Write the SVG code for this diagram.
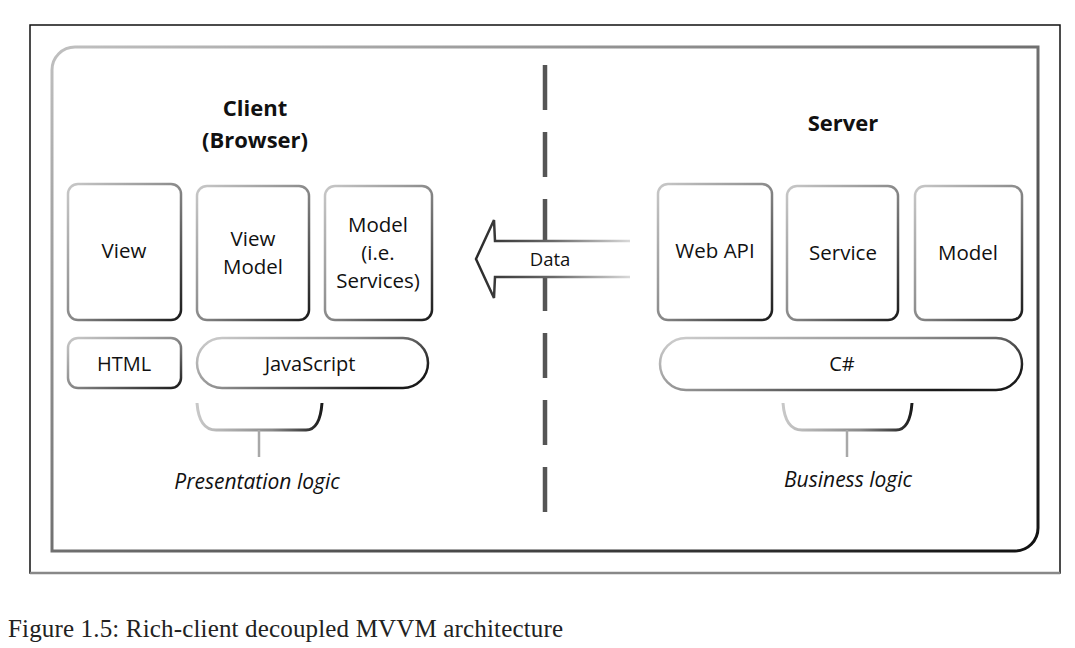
<svg xmlns="http://www.w3.org/2000/svg" width="1075" height="648" viewBox="0 0 1075 648">
<defs>
<linearGradient id="gBox" x1="0" y1="0" x2="1" y2="1">
<stop offset="0" stop-color="#c8c8c8"/><stop offset="0.5" stop-color="#8a8a8a"/><stop offset="1" stop-color="#1a1a1a"/>
</linearGradient>
<linearGradient id="gPill" x1="0" y1="0" x2="1" y2="0.6">
<stop offset="0" stop-color="#d0d0d0"/><stop offset="0.5" stop-color="#909090"/><stop offset="1" stop-color="#1a1a1a"/>
</linearGradient>
<linearGradient id="gCont" x1="0" y1="0" x2="1" y2="1">
<stop offset="0" stop-color="#c0c0c0"/><stop offset="0.5" stop-color="#707070"/><stop offset="1" stop-color="#111"/>
</linearGradient>
<linearGradient id="gArrow" gradientUnits="userSpaceOnUse" x1="476" y1="0" x2="632" y2="0">
<stop offset="0" stop-color="#2a2a2a"/><stop offset="0.5" stop-color="#6a6a6a"/><stop offset="1" stop-color="#dcdcdc"/>
</linearGradient>
<linearGradient id="gBrace" x1="0" y1="0" x2="1" y2="0">
<stop offset="0" stop-color="#c8c8c8"/><stop offset="0.6" stop-color="#8a8a8a"/><stop offset="1" stop-color="#1a1a1a"/>
</linearGradient>
</defs>
<style>
.box{fill:#fff;stroke:url(#gBox);stroke-width:2.5}
.pill{fill:#fff;stroke:url(#gPill);stroke-width:2.5}
.lbl{font-family:"Open Sans","Noto Sans",sans-serif;font-size:20.5px;fill:#111;text-anchor:middle}
.sm{font-size:20px}
.ttl{font-family:"Open Sans","Noto Sans",sans-serif;font-size:22px;font-weight:bold;fill:#111;text-anchor:middle}
.it{font-family:"Open Sans","Noto Sans",sans-serif;font-size:21px;font-style:italic;fill:#111;text-anchor:middle}
.brace{fill:none;stroke:url(#gBrace);stroke-width:3}
.stem{stroke:#a8a8a8;stroke-width:2.5}
</style>
<rect x="0" y="0" width="1075" height="648" fill="#fff"/>
<g id="frame">
<rect x="30" y="25" width="1030" height="548" fill="#fff" stroke="#111" stroke-width="1.5"/>
<line x1="30" y1="573" x2="1060" y2="573" stroke="#888" stroke-width="2.5"/>
</g>
<g id="container">
<path d="M52,70 A23,23 0 0 1 75,47 L1038,47 L1038,528 A23,23 0 0 1 1015,551 L52,551 Z" fill="#fff" stroke="url(#gCont)" stroke-width="3"/>
</g>
<g id="titles">
<text class="ttl" x="255" y="116">Client</text>
<text class="ttl" x="255" y="148">(Browser)</text>
<text class="ttl" x="843" y="131">Server</text>
</g>
<g id="connectors">
<line id="divider" x1="545" y1="65" x2="545" y2="520" stroke="#555" stroke-width="4.5" stroke-dasharray="45 22"/>
<g id="data-arrow">
<path d="M630,241 L495,241 L494,220 L476,259 L494,298 L495,277 L630,277" fill="#fff" stroke="url(#gArrow)" stroke-width="2.5" stroke-linejoin="miter"/>
<text class="lbl" x="550" y="266" style="font-size:18.5px">Data</text>
</g>
</g>
<g id="view"><rect class="box" x="68" y="184" width="113" height="136" rx="10"/><text class="lbl" x="124" y="258">View</text></g>
<g id="viewmodel"><rect class="box" x="197" y="186" width="112" height="134" rx="10"/><text class="lbl" x="253" y="246">View</text><text class="lbl" x="253" y="274">Model</text></g>
<g id="model-client"><rect class="box" x="325" y="186" width="107" height="134" rx="10"/><text class="lbl" x="378" y="232">Model</text><text class="lbl" x="378" y="260">(i.e.</text><text class="lbl" x="378" y="288">Services)</text></g>
<g id="html"><rect class="box" x="68" y="338" width="113" height="50" rx="10"/><text class="lbl sm" x="124" y="371">HTML</text></g>
<g id="javascript"><rect class="pill" x="197" y="338" width="231" height="50" rx="25"/><text class="lbl sm" x="310" y="371">JavaScript</text></g>
<g id="webapi"><rect class="box" x="658" y="184" width="114" height="136" rx="10"/><text class="lbl" x="715" y="258">Web API</text></g>
<g id="service"><rect class="box" x="787" y="186" width="111" height="134" rx="10"/><text class="lbl" x="843" y="260">Service</text></g>
<g id="model-server"><rect class="box" x="915" y="186" width="107" height="134" rx="10"/><text class="lbl" x="968" y="260">Model</text></g>
<g id="csharp"><rect class="pill" x="660" y="338" width="362" height="52" rx="26"/><text class="lbl sm" x="842" y="371">C#</text></g>
<g id="presentation-logic">
<path class="brace" d="M197,403 Q199,430 216,430 L306,430 Q320,430 322,403"/>
<line class="stem" x1="259" y1="430" x2="259" y2="457"/>
<text class="it" x="257" y="489">Presentation logic</text>
</g>
<g id="business-logic">
<path class="brace" d="M783,403 Q785,430 802,430 L896,430 Q910,430 912,403"/>
<line class="stem" x1="847" y1="430" x2="847" y2="457"/>
<text class="it" x="848" y="487">Business logic</text>
</g>
<text id="caption" x="8" y="637" font-family="'Liberation Serif',serif" font-size="25" fill="#222" textLength="555" lengthAdjust="spacing">Figure 1.5: Rich-client decoupled MVVM architecture</text>
</svg>
